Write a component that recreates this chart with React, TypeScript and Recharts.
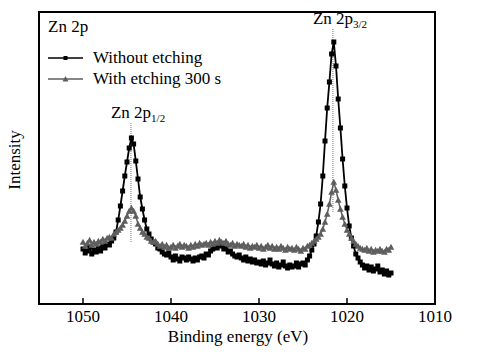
import React from "react";
import { LineChart, Line, XAxis, YAxis, ReferenceArea, ReferenceLine, Legend } from "recharts";

// binding energy (eV), 0.25 eV steps, 8 per row
const energies = [
  1050, 1049.75, 1049.5, 1049.25, 1049, 1048.75, 1048.5, 1048.25,
  1048, 1047.75, 1047.5, 1047.25, 1047, 1046.75, 1046.5, 1046.25,
  1046, 1045.75, 1045.5, 1045.25, 1045, 1044.75, 1044.5, 1044.25,
  1044, 1043.75, 1043.5, 1043.25, 1043, 1042.75, 1042.5, 1042.25,
  1042, 1041.75, 1041.5, 1041.25, 1041, 1040.75, 1040.5, 1040.25,
  1040, 1039.75, 1039.5, 1039.25, 1039, 1038.75, 1038.5, 1038.25,
  1038, 1037.75, 1037.5, 1037.25, 1037, 1036.75, 1036.5, 1036.25,
  1036, 1035.75, 1035.5, 1035.25, 1035, 1034.75, 1034.5, 1034.25,
  1034, 1033.75, 1033.5, 1033.25, 1033, 1032.75, 1032.5, 1032.25,
  1032, 1031.75, 1031.5, 1031.25, 1031, 1030.75, 1030.5, 1030.25,
  1030, 1029.75, 1029.5, 1029.25, 1029, 1028.75, 1028.5, 1028.25,
  1028, 1027.75, 1027.5, 1027.25, 1027, 1026.75, 1026.5, 1026.25,
  1026, 1025.75, 1025.5, 1025.25, 1025, 1024.75, 1024.5, 1024.25,
  1024, 1023.75, 1023.5, 1023.25, 1023, 1022.75, 1022.5, 1022.25,
  1022, 1021.75, 1021.5, 1021.25, 1021, 1020.75, 1020.5, 1020.25,
  1020, 1019.75, 1019.5, 1019.25, 1019, 1018.75, 1018.5, 1018.25,
  1018, 1017.75, 1017.5, 1017.25, 1017, 1016.75, 1016.5, 1016.25,
  1016, 1015.75, 1015.5, 1015.25, 1015,
];

const withoutEtching = [
  55, 51, 53, 57, 50, 54, 52, 56,
  53, 58, 56, 60, 59, 63, 66, 72,
  84, 98, 113, 128, 142, 156, 166, 160,
  143, 125, 107, 95, 84, 75, 70, 65,
  62, 60, 56, 55, 52, 50, 49, 51,
  47, 44, 48, 45, 43, 47, 46, 44,
  47, 45, 43, 46, 44, 47, 48, 46,
  50, 49, 53, 55, 57, 56, 60, 58,
  55, 56, 52, 53, 50, 48, 47, 49,
  46, 44, 47, 43, 45, 42, 44, 41,
  42, 40, 43, 39, 41, 44, 40, 38,
  41, 37, 39, 42, 38, 36, 39, 37,
  38, 41, 37, 40, 41, 39, 44, 48,
  54, 60, 68, 82, 100, 128, 163, 196,
  222, 250, 262, 238, 205, 176, 145, 118,
  96, 78, 66, 58, 50, 46, 42, 39,
  36, 38, 34, 37, 33, 35, 38, 32,
  34, 30, 33, 29, 31,
];

const withEtching = [
  62, 58, 61, 64, 59, 62, 60, 63,
  62, 65, 63, 66, 67, 66, 70, 72,
  74, 76, 79, 83, 88, 93, 96, 93,
  88, 80, 76, 72, 70, 67, 66, 63,
  62, 63, 60, 58, 60, 57, 59, 56,
  57, 59, 56, 58, 60, 57, 59, 58,
  56, 59, 57, 60, 58, 61, 59, 60,
  61, 59, 62, 60, 63, 61, 64, 62,
  61, 63, 60, 59, 61, 58, 60, 59,
  58, 60, 57, 59, 56, 58, 57, 59,
  56, 58, 55, 57, 59, 56, 58, 55,
  57, 55, 58, 56, 54, 57, 55, 56,
  54, 57, 55, 53, 56, 55, 58, 59,
  61, 63, 65, 67, 70, 75, 82, 90,
  100, 112, 122, 114, 104, 95, 87, 80,
  74, 70, 66, 63, 60, 58, 56, 55,
  54, 56, 53, 55, 52, 54, 53, 55,
  53, 52, 55, 54, 57,
];

const xTicks = [1050, 1040, 1030, 1020, 1010];

// dotted guide lines under the peak labels
const peaks = [
  { sub: "1/2", energy: 1044.55, from: 62, to: 182 },
  { sub: "3/2", energy: 1021.6, from: 92, to: 276 },
];

const data = energies.map((e, i) => ({ energy: e, a: withoutEtching[i], b: withEtching[i] }));

const FONT = "Liberation Serif, Times New Roman, serif";
const txt = { fontFamily: FONT };
const BLACK = "#000000";
const GRAY = "#5e5e5e";

const Square = (props: any) => {
  const { cx, cy, index } = props;
  if (cx == null || cy == null) return <g key={index} />;
  return <rect key={index} x={cx - 2.5} y={cy - 2.5} width={5} height={5} fill={BLACK} />;
};

const Triangle = (props: any) => {
  const { cx, cy, index } = props;
  if (cx == null || cy == null) return <g key={index} />;
  return (
    <polygon key={index} points={`${cx},${cy - 3.3} ${cx - 3.3},${cy + 2.7} ${cx + 3.3},${cy + 2.7}`} fill={GRAY} />
  );
};

const BottomTick = (props: any) => {
  const { x, y, payload } = props;
  return (
    <g>
      <line x1={x} y1={y} x2={x} y2={y - 6} stroke="#000" strokeWidth={1.5} />
      <text x={x} y={y + 18} textAnchor="middle" style={txt} fontSize={17} fill="#000">
        {payload.value}
      </text>
    </g>
  );
};

const AxisTitle = (props: any) => {
  const { viewBox } = props;
  return (
    <text x={viewBox.x + viewBox.width / 2 + 1} y={viewBox.y + 38} textAnchor="middle" style={txt} fontSize={17} fill="#000">
      Binding energy (eV)
    </text>
  );
};

const PeakLabel = (sub: string) => (props: any) => {
  const { viewBox } = props;
  return (
    <text x={viewBox.x - 20} y={viewBox.y - 4} style={txt} fontSize={17} fill="#000">
      Zn 2p
      <tspan fontSize={11} dy={4}>
        {sub}
      </tspan>
    </text>
  );
};

const LegendBox = () => (
  <svg width={240} height={100} style={txt}>
    <text x={9} y={20} style={txt} fontSize={17} fill="#000">
      Zn 2p
    </text>
    <line x1={9} y1={46} x2={44} y2={46} stroke={BLACK} strokeWidth={1.5} />
    <rect x={24.5} y={44} width={4} height={4} fill={BLACK} />
    <text x={54} y={51} style={txt} fontSize={17} fill="#000">
      Without etching
    </text>
    <line x1={9} y1={67} x2={44} y2={67} stroke={GRAY} strokeWidth={1.5} />
    <polygon points="26.5,64 23.5,69.5 29.5,69.5" fill={GRAY} />
    <text x={54} y={72} style={txt} fontSize={17} fill="#000">
      With etching 300 s
    </text>
  </svg>
);

export default function App() {
  return (
    <div style={{ position: "absolute", left: 0, top: 0, width: 483, height: 358, background: "#fff", fontFamily: FONT }}>
      <LineChart width={483} height={358} data={data} margin={{ top: 12, right: 48, left: 39, bottom: 24 }} style={txt}>
        <XAxis
          dataKey="energy"
          type="number"
          domain={[1010, 1055]}
          reversed
          ticks={xTicks}
          height={30}
          axisLine={false}
          tickLine={false}
          tickSize={0}
          tickMargin={0}
          tick={<BottomTick />}
          label={{ content: AxisTitle }}
        />
        <YAxis hide domain={[0, 292]} type="number" />
        <ReferenceArea x1={1055} x2={1010} y1={0} y2={292} fill="none" stroke="#000" strokeWidth={2} ifOverflow="visible" />
        {peaks.map((p) => (
          <ReferenceLine
            key={p.sub}
            segment={[
              { x: p.energy, y: p.from },
              { x: p.energy, y: p.to },
            ]}
            stroke="#777"
            strokeWidth={1}
            strokeDasharray="1 1"
            label={{ content: PeakLabel(p.sub) }}
            ifOverflow="visible"
          />
        ))}
        <Line
          type="linear"
          dataKey="a"
          name="Without etching"
          stroke={BLACK}
          strokeWidth={1.8}
          dot={<Square />}
          isAnimationActive={false}
        />
        <Line
          type="linear"
          dataKey="b"
          name="With etching 300 s"
          stroke={GRAY}
          strokeWidth={1.5}
          dot={<Triangle />}
          isAnimationActive={false}
        />
        <Legend
          layout="vertical"
          align="center"
          verticalAlign="middle"
          content={<LegendBox />}
          wrapperStyle={{ left: 39, top: 12, width: 240, height: 100 }}
        />
      </LineChart>
      <div
        style={{
          position: "absolute",
          left: 15,
          top: 160,
          transform: "translate(-50%, -50%) rotate(-90deg)",
          fontSize: 17,
          whiteSpace: "nowrap",
        }}
      >
        Intensity
      </div>
    </div>
  );
}
